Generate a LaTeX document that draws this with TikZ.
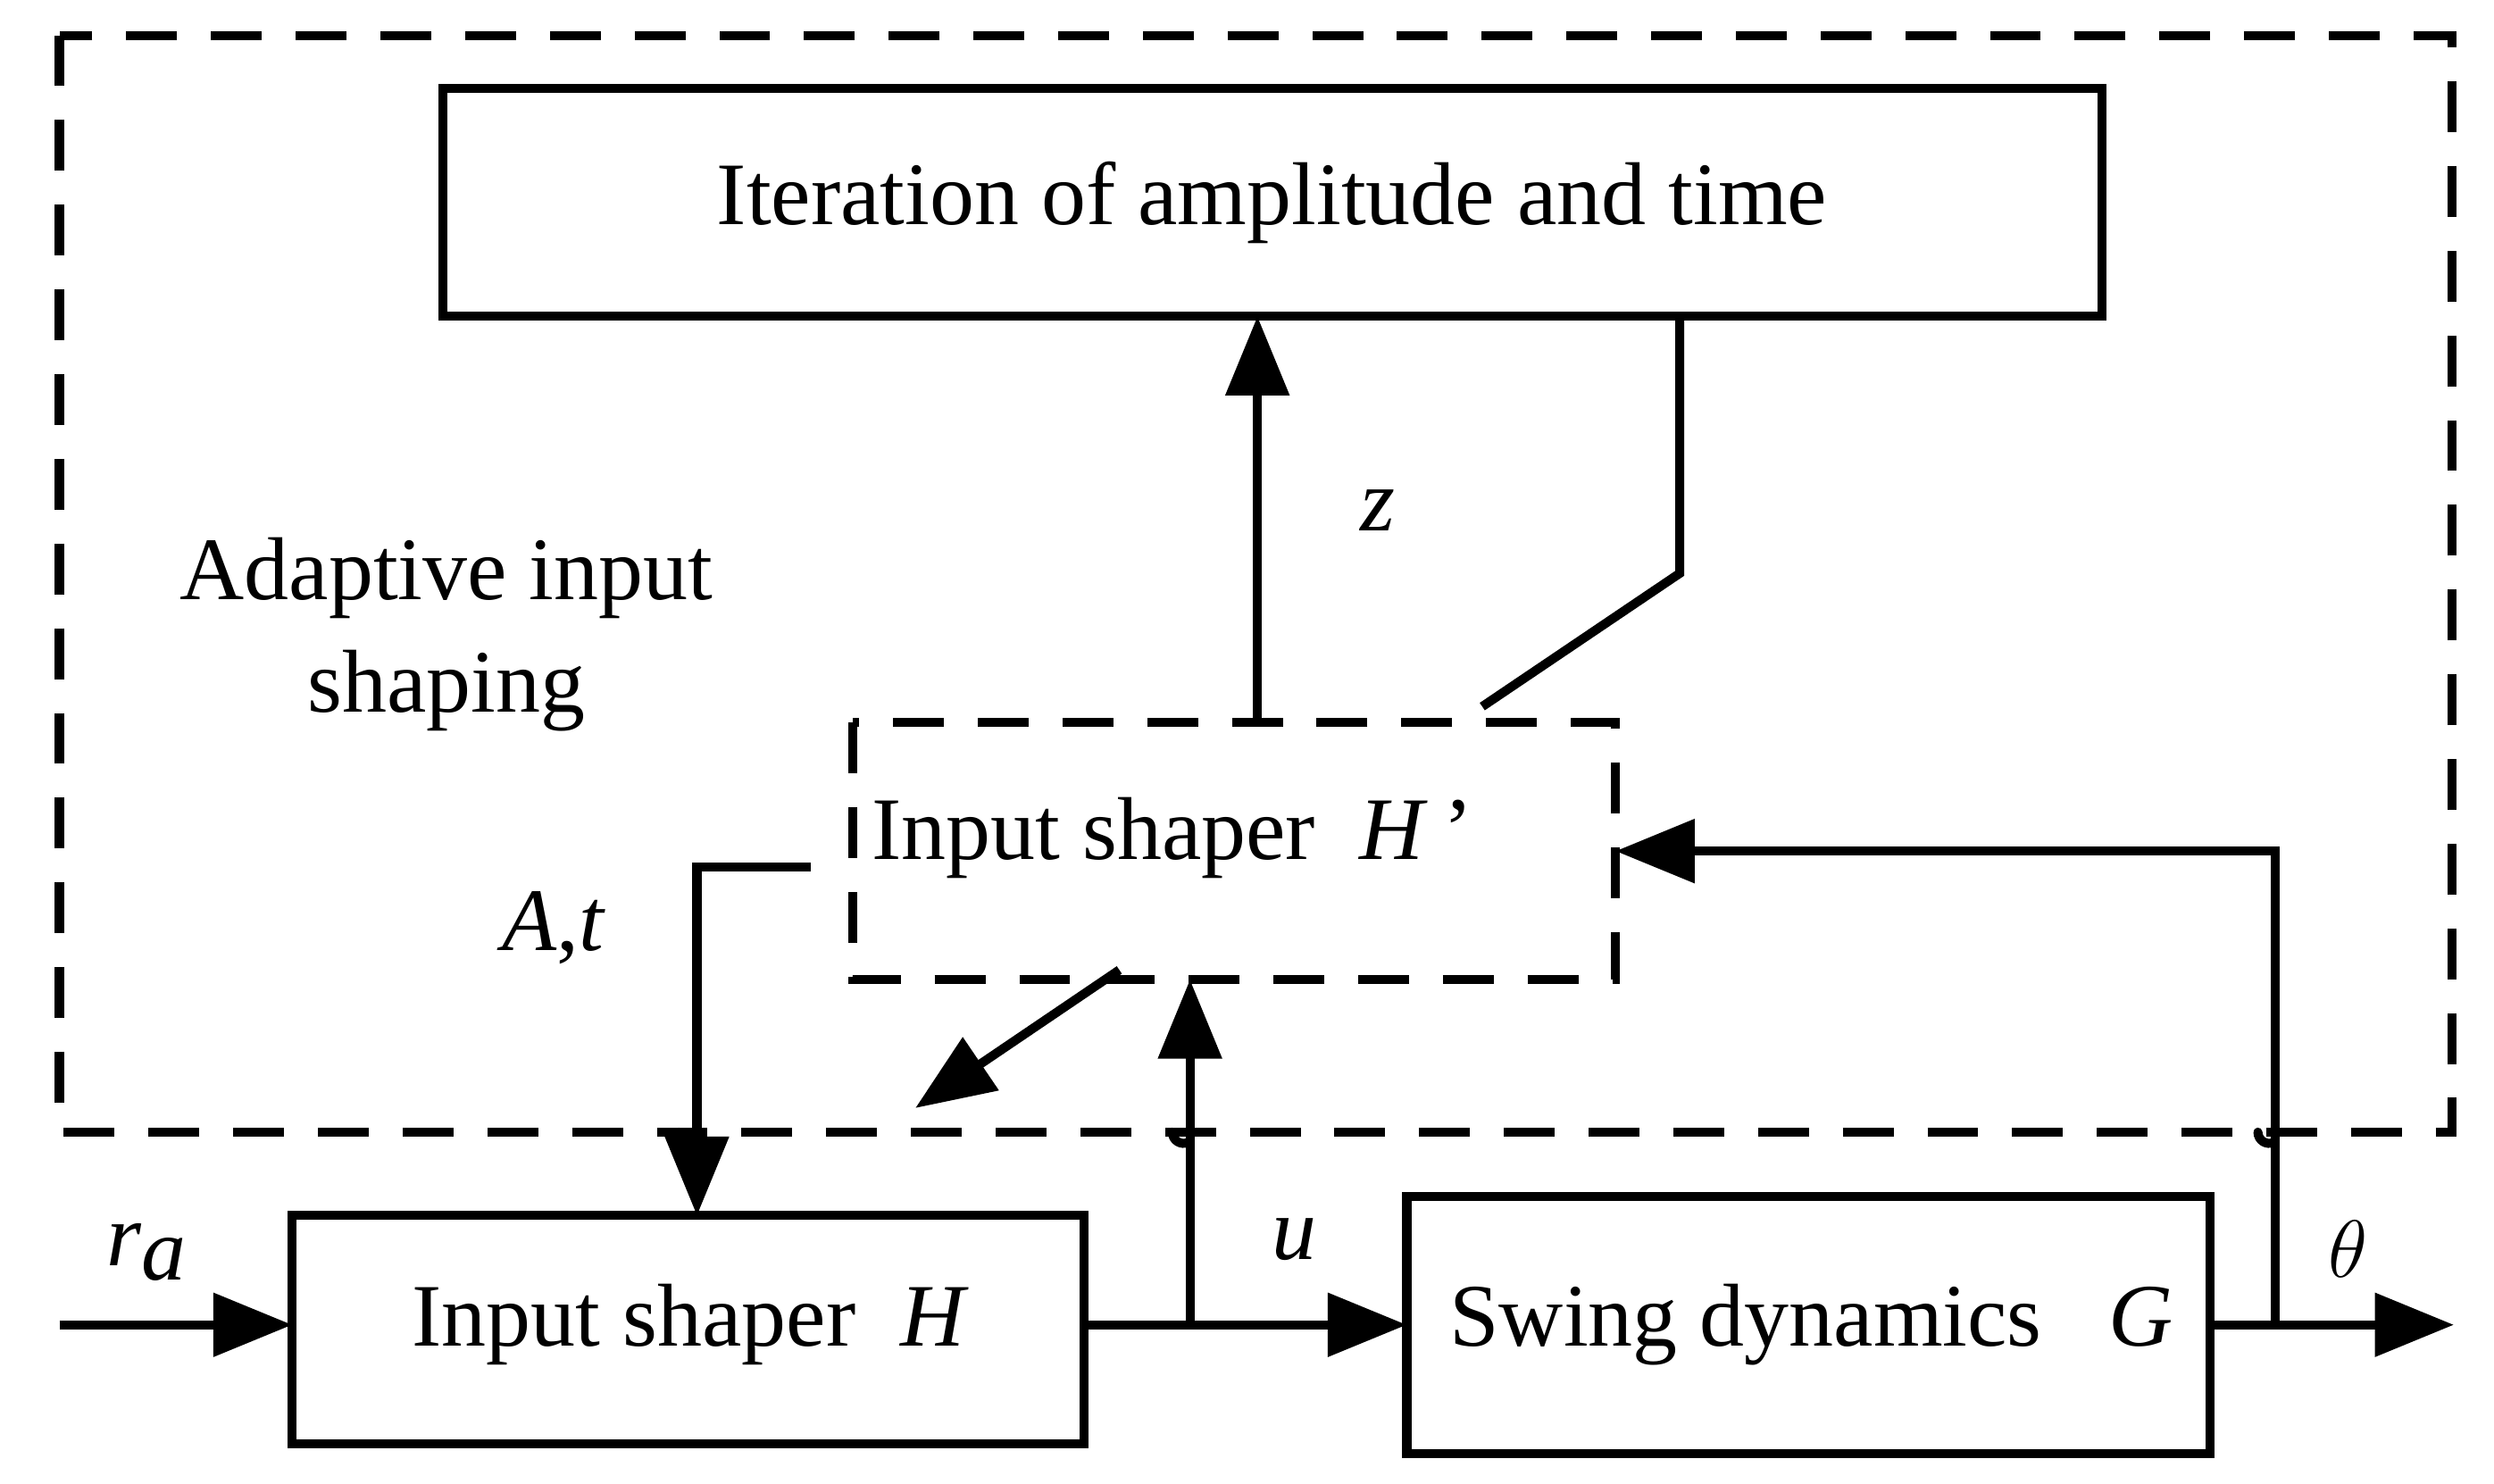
\documentclass[tikz,border=0pt]{standalone}
\usepackage{fontspec}
\setmainfont{Liberation Serif}
\usetikzlibrary{arrows.meta}
\begin{document}
\begin{tikzpicture}[x=0.01cm,y=-0.01cm,
  ar/.style={line width=1.6pt,-{Triangle[length=14pt,width=11pt]}},
  ln/.style={line width=1.6pt},
  hop/.style={line width=1.6pt,line cap=round},
  dsh/.style={line width=1.6pt,dash pattern=on 9pt off 6pt},
  lbl/.style={font=\fontsize{15.8}{20}\selectfont}]
\useasboundingbox (0,0) rectangle (1553,924);
\draw[dsh] (37,22) rectangle (1527,705);
\draw[ln] (276,55) rectangle (1309,197);
\node[lbl] (it) at (792,126) {Iteration of amplitude and time};
\node[lbl,align=center] (ad) at (278,395) {Adaptive input\\shaping};
\draw[dsh] (531,450) rectangle (1006,610);
\node[lbl] (hp) at (730,522) {Input shaper\ \ \textit{H}\,'};
\draw[ln] (182,757) rectangle (675,899);
\node[lbl] (h) at (430,825) {Input shaper\ \ \textit{H}};
\draw[ln] (876,745) rectangle (1376,905);
\node[lbl] (g) at (1128,825) {Swing dynamics\ \ \ \textit{G}};
\node[lbl] (z) at (858,318) {\textit{z}};
\node[lbl] (at) at (345,578) {\textit{A},\textit{t}};
\node[lbl] (ra) at (92,780) {\textit{r}$_{\textit{a}}$};
\node[lbl] (u) at (806,772) {\textit{u}};
\node[lbl] (th) at (1462,778) {$\theta$};
\coordinate (zb) at (783,450); \coordinate (zt) at (783,197);
\draw[ar] (zb) -- (zt);
\coordinate (i1) at (1046,197); \coordinate (i2) at (1046,357); \coordinate (i3) at (923,440);
\draw[ln] (i1) -- (i2) -- (i3);
\coordinate (a1) at (505,540); \coordinate (a2) at (434,540); \coordinate (a3) at (434,757);
\draw[ar] (a1) -- (a2) -- (a3);
\coordinate (b1) at (697,604); \coordinate (b2) at (570,690);
\draw[ar] (b1) -- (b2);
\coordinate (r0) at (37,825); \coordinate (r1) at (182,825);
\draw[ar] (r0) -- (r1);
\coordinate (m0) at (675,825); \coordinate (m1) at (876,825); \coordinate (mb) at (741,825); \coordinate (mt) at (741,610);
\draw[ar] (m0) -- (m1);
\draw[ar] (mb) -- (mt);
\coordinate (o0) at (1376,825); \coordinate (o1) at (1528,825); \coordinate (fb) at (1417,825);
\coordinate (f2) at (1417,530); \coordinate (f3) at (1006,530);
\draw[ar] (o0) -- (o1);
\draw[ar] (fb) -- (f2) -- (f3);
\foreach \x in {434,741,1417}
  \draw[hop] (\x-11,705) arc[start angle=180,end angle=70,radius=7];
\end{tikzpicture}
\end{document}
